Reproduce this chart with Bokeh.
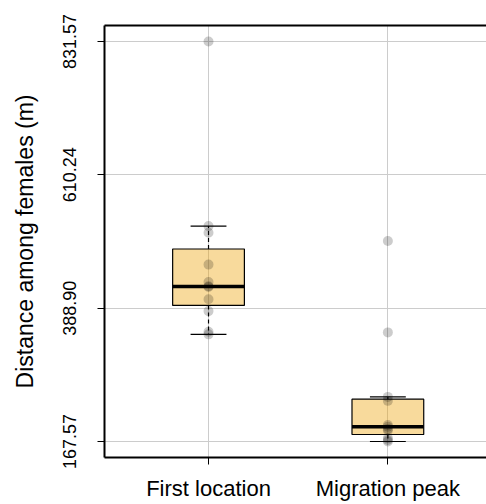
from bokeh.plotting import figure
from bokeh.models import FixedTicker, NumeralTickFormatter, LinearAxis, Range1d
from bokeh.embed import file_html
from bokeh.resources import INLINE

# ---- data ----
groups = ["First location", "Migration peak"]
group_pos = [1, 2]
q1 = [393.4, 179.2]
median = [425.0, 191.9]
q3 = [487.1, 237.8]
whisker_lo = [345.4, 167.57]
whisker_hi = [525.1, 241.6]
points_first = [831.57, 525.1, 514.2, 461.2, 432.4, 425.3, 424.0, 403.8, 384.0, 349.7, 345.4]
points_migration = [500.3, 348.7, 241.6, 235.0, 195.0, 191.9, 188.5, 185.8, 173.2, 170.0, 167.57]
y_ticks = [167.57, 388.90, 610.24, 831.57]

FONT = "Liberation Sans"
BOX_W = 0.4
CAP_W = 0.2

p = figure(width=486, height=504, output_backend="svg", toolbar_location=None,
           x_range=Range1d(0.42, 2.55), y_range=Range1d(141.0, 858.1),
           min_border_left=104, min_border_right=0, min_border_top=25, min_border_bottom=47)
p.outline_line_color = None
p.background_fill_color = "white"

# grid
p.xgrid.ticker = FixedTicker(ticks=group_pos)
p.ygrid.ticker = FixedTicker(ticks=y_ticks)
for g in (p.xgrid, p.ygrid):
    g.grid_line_color = "#cccccc"
    g.grid_line_width = 1

# axes
xa = p.xaxis[0]
xa.ticker = FixedTicker(ticks=group_pos)
xa.major_label_overrides = {pos: name for pos, name in zip(group_pos, groups)}
xa.major_label_text_font = FONT
xa.major_label_text_font_size = "22px"
xa.major_label_text_color = "black"
xa.major_label_standoff = 11
xa.major_tick_out = 7
xa.major_tick_in = 0
xa.minor_tick_out = 0
xa.minor_tick_in = 0
xa.axis_line_width = 2
xa.axis_line_color = "black"
xa.major_tick_line_color = "black"

ya = p.yaxis[0]
ya.ticker = FixedTicker(ticks=y_ticks)
ya.formatter = NumeralTickFormatter(format="0.00")
ya.major_label_orientation = "vertical"
ya.major_label_text_font = FONT
ya.major_label_text_font_size = "18px"
ya.major_label_text_color = "black"
ya.major_label_standoff = 21
ya.major_tick_out = 7
ya.major_tick_in = 0
ya.minor_tick_out = 0
ya.minor_tick_in = 0
ya.axis_line_width = 2
ya.axis_line_color = "black"
ya.major_tick_line_color = "black"
ya.axis_label = "Distance among females (m)"
ya.axis_label_text_font = FONT
ya.axis_label_text_font_size = "23px"
ya.axis_label_text_font_style = "normal"
ya.axis_label_text_color = "black"
ya.axis_label_standoff = 23

top = LinearAxis(ticker=FixedTicker(ticks=[]), major_label_text_font_size="0px",
                 major_tick_out=0, major_tick_in=0, minor_tick_out=0, minor_tick_in=0,
                 axis_line_width=2, axis_line_color="black")
p.add_layout(top, "above")

# whiskers (dashed)
p.segment(x0=group_pos, y0=q3, x1=group_pos, y1=whisker_hi, line_color="black",
          line_dash="4 3", line_width=1.2)
p.segment(x0=group_pos, y0=q1, x1=group_pos, y1=whisker_lo, line_color="black",
          line_dash="4 3", line_width=1.2)
# caps
cap_x0 = [x - CAP_W / 2 for x in group_pos]
cap_x1 = [x + CAP_W / 2 for x in group_pos]
p.segment(x0=cap_x0, y0=whisker_hi, x1=cap_x1, y1=whisker_hi, line_color="black", line_width=1.2)
p.segment(x0=cap_x0, y0=whisker_lo, x1=cap_x1, y1=whisker_lo, line_color="black", line_width=1.2)

# boxes
p.vbar(x=group_pos, width=BOX_W, bottom=q1, top=q3, fill_color="#EEA308", fill_alpha=0.4,
       line_color="black", line_width=1.2)
med_x0 = [x - BOX_W / 2 for x in group_pos]
med_x1 = [x + BOX_W / 2 for x in group_pos]
p.segment(x0=med_x0, y0=median, x1=med_x1, y1=median, line_color="black", line_width=3.5)

# points
px = [group_pos[0]] * len(points_first) + [group_pos[1]] * len(points_migration)
py = points_first + points_migration
p.scatter(x=px, y=py, size=10, fill_color="black", fill_alpha=0.2, line_color=None)

open("out.html", "w").write(file_html(p, INLINE))
